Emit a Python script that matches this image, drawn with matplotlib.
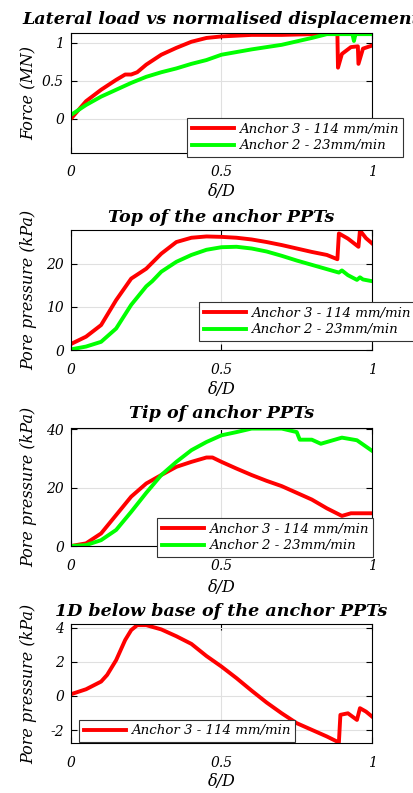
import matplotlib
matplotlib.use("Agg")
import matplotlib.pyplot as plt

# ---------------- data ----------------
# Panel 1: Force (MN) vs delta/D
f_a3_x = [0.0, 0.05, 0.10, 0.15, 0.18, 0.20, 0.22, 0.25, 0.30, 0.35, 0.40, 0.45, 0.50, 0.60, 0.70, 0.80, 0.885,
          0.887, 0.90, 0.93, 0.953, 0.955, 0.97, 1.0]
f_a3_y = [0.0, 0.23, 0.38, 0.51, 0.58, 0.58, 0.61, 0.71, 0.84, 0.93, 1.01, 1.06, 1.08, 1.10, 1.10, 1.11, 1.12,
          0.67, 0.85, 0.94, 0.95, 0.72, 0.92, 0.96]
f_a2_x = [0.0, 0.05, 0.10, 0.15, 0.20, 0.25, 0.30, 0.35, 0.40, 0.45, 0.50, 0.60, 0.70, 0.80, 0.85, 0.90, 0.935,
          0.94, 0.945, 0.95, 1.0]
f_a2_y = [0.05, 0.18, 0.29, 0.38, 0.47, 0.55, 0.61, 0.66, 0.72, 0.77, 0.84, 0.91, 0.97, 1.06, 1.11, 1.11, 1.11,
          1.02, 1.11, 1.11, 1.11]

# Panel 2: Top of the anchor PPTs (kPa)
t_a3_x = [0.0, 0.05, 0.10, 0.15, 0.20, 0.25, 0.30, 0.35, 0.40, 0.45, 0.50, 0.55, 0.60, 0.65, 0.70, 0.75, 0.80,
          0.85, 0.885, 0.89, 0.92, 0.955, 0.96, 0.98, 1.0]
t_a3_y = [1.4, 3.1, 5.8, 11.6, 16.6, 18.9, 22.4, 25.1, 26.1, 26.4, 26.3, 26.1, 25.7, 25.1, 24.4, 23.6, 22.8,
          22.1, 21.1, 27.1, 25.9, 24.0, 27.8, 26.0, 24.8]
t_a2_x = [0.0, 0.05, 0.10, 0.15, 0.20, 0.25, 0.27, 0.30, 0.35, 0.40, 0.45, 0.50, 0.55, 0.60, 0.65, 0.70, 0.75,
          0.80, 0.85, 0.89, 0.90, 0.92, 0.95, 0.96, 0.97, 1.0]
t_a2_y = [0.15, 0.8, 1.9, 5.0, 10.5, 14.8, 16.0, 18.2, 20.5, 22.1, 23.3, 23.9, 24.0, 23.6, 22.9, 21.9, 20.8,
          19.8, 18.8, 18.0, 18.5, 17.4, 16.3, 16.9, 16.4, 16.0]

# Panel 3: Tip of anchor PPTs (kPa)
p_a3_x = [0.0, 0.05, 0.10, 0.15, 0.20, 0.25, 0.30, 0.35, 0.40, 0.45, 0.47, 0.50, 0.55, 0.60, 0.65, 0.70, 0.75,
          0.80, 0.85, 0.90, 0.93, 0.95, 1.0]
p_a3_y = [0.0, 0.9, 4.3, 10.6, 16.9, 21.4, 24.3, 27.1, 28.8, 30.3, 30.3, 28.8, 26.5, 24.3, 22.3, 20.5, 18.2,
          15.9, 12.9, 10.3, 11.2, 11.2, 11.2]
p_a2_x = [0.0, 0.05, 0.10, 0.15, 0.20, 0.25, 0.30, 0.35, 0.40, 0.45, 0.50, 0.55, 0.60, 0.65, 0.70, 0.75, 0.76,
          0.80, 0.83, 0.87, 0.90, 0.95, 1.0]
p_a2_y = [0.0, 0.3, 2.0, 5.5, 11.7, 18.2, 24.3, 28.8, 32.8, 35.6, 37.9, 39.0, 40.2, 40.2, 40.2, 39.0, 36.4,
          36.4, 35.0, 36.2, 37.1, 36.2, 32.6]

# Panel 4: 1D below base of the anchor PPTs (kPa)
b_a3_x = [0.0, 0.05, 0.10, 0.12, 0.15, 0.18, 0.20, 0.22, 0.25, 0.30, 0.35, 0.40, 0.45, 0.50, 0.55, 0.60, 0.65,
          0.70, 0.75, 0.80, 0.85, 0.89, 0.895, 0.92, 0.95, 0.96, 0.98, 1.0]
b_a3_y = [0.1, 0.39, 0.84, 1.23, 2.1, 3.28, 3.86, 4.15, 4.15, 3.9, 3.5, 3.05, 2.34, 1.72, 1.04, 0.31, -0.39,
          -1.02, -1.6, -1.99, -2.38, -2.73, -1.11, -1.02, -1.41, -0.72, -0.92, -1.21]

lab_a3 = "Anchor 3 - 114 mm/min"
lab_a2 = "Anchor 2 - 23mm/min"
titles = ["Lateral load vs normalised displacement", "Top of the anchor PPTs",
          "Tip of anchor PPTs", "1D below base of the anchor PPTs"]
ylabels = ["Force (MN)", "Pore pressure (kPa)", "Pore pressure (kPa)", "Pore pressure (kPa)"]
xlabel = "δ/D"
xticks = [0, 0.5, 1]
xticklabels = ["0", "0.5", "1"]
yticks = [[0, 0.5, 1], [0, 10, 20], [0, 20, 40], [-2, 0, 2, 4]]
yticklabels = [["0", "0.5", "1"], ["0", "10", "20"], ["0", "20", "40"], ["-2", "0", "2", "4"]]
ylims = [(-0.45, 1.125), (0, 27.9), (0, 40.5), (-2.78, 4.2)]

# ---------------- figure ----------------
plt.rcParams['font.family'] = ['DejaVu Serif']
W, H = 414, 793
fig = plt.figure(figsize=(W / 100, H / 100), dpi=100)

# axes boxes in pixels: (top, bottom)
boxes = [(33, 153), (230, 350), (427.7, 546), (624.3, 743.3)]
left_px, right_px = 71, 372
legend_pos = [(0.385, -0.033), (0.425, 0.075), (0.286, -0.093), (0.027, 0.011)]
xlab_px = [192, 390, 588, 782]
title_px = [20, 217, 414, 612]

series = [
    [(f_a3_x, f_a3_y, 'r', lab_a3), (f_a2_x, f_a2_y, (0, 1, 0), lab_a2)],
    [(t_a3_x, t_a3_y, 'r', lab_a3), (t_a2_x, t_a2_y, (0, 1, 0), lab_a2)],
    [(p_a3_x, p_a3_y, 'r', lab_a3), (p_a2_x, p_a2_y, (0, 1, 0), lab_a2)],
    [(b_a3_x, b_a3_y, 'r', lab_a3)],
]

for i in range(4):
    top, bot = boxes[i]
    ax = fig.add_axes([left_px / W, 1 - bot / H, (right_px - left_px) / W, (bot - top) / H])
    for xs, ys, c, lab in series[i]:
        ax.plot(xs, ys, color=c, lw=2.8, label=lab, solid_joinstyle='round')
    ax.set_xlim(0, 1)
    ax.set_ylim(*ylims[i])
    ax.set_xticks(xticks)
    ax.set_xticklabels(xticklabels, fontstyle='italic', fontsize=10)
    ax.set_yticks(yticks[i])
    ax.set_yticklabels(yticklabels[i], fontstyle='italic', fontsize=10)
    ax.tick_params(direction='in', length=4, width=0.8, top=True, right=True, color='black')
    ax.tick_params(axis='x', pad=9)
    ax.tick_params(axis='y', pad=5)
    ax.grid(True, color='#e0e0e0', lw=0.8)
    ax.set_axisbelow(True)
    for sp in ax.spines.values():
        sp.set_linewidth(0.8)
        sp.set_color('black')
    ax.set_ylabel(ylabels[i], fontstyle='italic', fontsize=11.5)
    ax.yaxis.set_label_coords(-(left_px - 29) / (right_px - left_px), 0.5)
    ax.yaxis.label.set_va('center')
    ax.set_xlabel(xlabel, fontstyle='italic', fontsize=11.5)
    ax.xaxis.set_label_coords(0.5, -(xlab_px[i] - bot) / (bot - top))
    ax.xaxis.label.set_va('center')
    ax.text(0.5, (top - title_px[i]) / (bot - top) + 1, titles[i], transform=ax.transAxes,
            ha='center', va='center', fontsize=12.6, fontweight='bold', fontstyle='italic')
    leg = ax.legend(loc='lower left', bbox_to_anchor=legend_pos[i], borderaxespad=0,
                    prop={'style': 'italic', 'size': 9.6}, fancybox=False, framealpha=1,
                    edgecolor='#333333', handlelength=3.2, handletextpad=0.35,
                    borderpad=0.35, labelspacing=0.25)
    leg.get_frame().set_linewidth(0.8)

fig.savefig("out.png", dpi=100)
